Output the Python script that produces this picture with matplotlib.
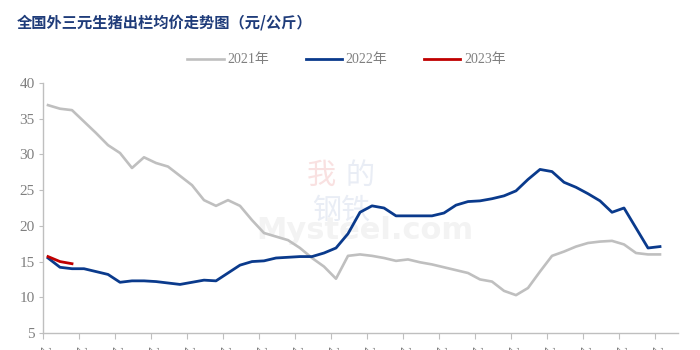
import numpy as np
import matplotlib.pyplot as plt

plt.rcParams['font.family'] = ['Liberation Serif', 'Noto Sans CJK SC']

# weekly price, yuan/kg
price_2021 = [36.9, 36.4, 36.2, 34.6, 33.0, 31.3, 30.2, 28.1, 29.6, 28.8,
              28.3, 27.0, 25.7, 23.6, 22.8, 23.6, 22.8, 20.8, 19.0, 18.5,
              18.0, 16.9, 15.5, 14.3, 12.6, 15.8, 16.0, 15.8, 15.5, 15.1,
              15.3, 14.9, 14.6, 14.2, 13.8, 13.4, 12.5, 12.2, 10.9, 10.3,
              11.3, 13.6, 15.8, 16.4, 17.1, 17.6, 17.8, 17.9, 17.4, 16.2,
              16.0, 16.0]
price_2022 = [15.5, 14.2, 14.0, 14.0, 13.6, 13.2, 12.1, 12.3, 12.3, 12.2,
              12.0, 11.8, 12.1, 12.4, 12.3, 13.4, 14.5, 15.0, 15.1, 15.5,
              15.6, 15.7, 15.7, 16.2, 16.9, 18.9, 21.9, 22.8, 22.5, 21.4,
              21.4, 21.4, 21.4, 21.8, 22.9, 23.4, 23.5, 23.8, 24.2, 24.9,
              26.5, 27.9, 27.6, 26.1, 25.4, 24.5, 23.5, 21.9, 22.5, 19.7,
              16.9, 17.1]
price_2023 = [15.7, 15.0, 14.7]

tick_labels = ['2022-01-07', '2022-01-28', '2022-02-18', '2022-03-11',
               '2022-04-01', '2022-04-22', '2022-05-13', '2022-06-03',
               '2022-06-24', '2022-07-15', '2022-08-05', '2022-08-26',
               '2022-09-16', '2022-10-07', '2022-10-28', '2022-11-18',
               '2022-12-09', '2022-12-30']

fig = plt.figure(figsize=(7, 3.5), dpi=100)
ax = fig.add_axes([43/700, 1-333/350, 635/700, 250/350])

# faint watermark
wm = dict(transform=ax.transAxes, fontsize=21, ha='center', va='center',
          zorder=0, family=['Noto Sans CJK SC'])
ax.text(0.438, 0.63, '我', color='#f9e1e1', **wm)
ax.text(0.500, 0.63, '的', color='#e9edf5', **wm)
ax.text(0.469, 0.49, '钢铁', color='#e9edf5', **wm)
ax.text(0.507, 0.41, 'Mysteel.com', transform=ax.transAxes, fontsize=22,
        color='#f3f3f3', ha='center', va='center', zorder=0,
        family=['DejaVu Sans'], fontweight='bold')

gray = '#BFBFBF'
blue = '#0A3A8C'
red = '#C00000'
ax.plot(np.arange(len(price_2021)), price_2021, color=gray, lw=1.9, label='2021年')
ax.plot(np.arange(len(price_2022)), price_2022, color=blue, lw=2.0, label='2022年')
ax.plot(np.arange(len(price_2023)), price_2023, color=red, lw=2.0, label='2023年')

ax.set_xlim(-5/12, 52.5)
ax.set_ylim(5, 40)
ax.set_yticks(range(5, 41, 5))
ax.set_xticks(np.arange(len(tick_labels)) * 3 - 5/12)
ax.set_xticklabels(tick_labels, rotation=-90, fontsize=10, color='#7f7f7f')
ax.tick_params(axis='x', length=4, color='#BFBFBF', pad=5)
ax.tick_params(axis='y', length=3, color='#BFBFBF', labelsize=11,
               labelcolor='#7f7f7f', pad=3)
for s in ['top', 'right']:
    ax.spines[s].set_visible(False)
for s in ['left', 'bottom']:
    ax.spines[s].set_color('#BFBFBF')
    ax.spines[s].set_linewidth(1.0)

fig.legend(loc='center', bbox_to_anchor=(0.495, 1-60/350), ncol=3,
           frameon=False, fontsize=10, handlelength=2.6, handletextpad=0.3,
           columnspacing=2.6, labelcolor='#7f7f7f')

fig.text(17/700, 1-22/350, '全国外三元生猪出栏均价走势图（元/公斤）',
         fontsize=11, fontweight='bold', color='#1F3C7A', va='center',
         family=['Noto Sans CJK SC'])

plt.savefig('out.png', dpi=100)
